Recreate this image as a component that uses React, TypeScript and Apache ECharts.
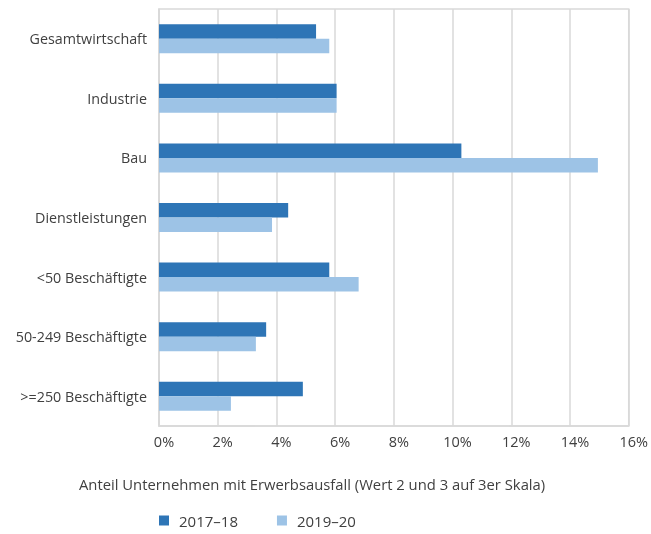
import React, { useEffect, useRef } from "react";
import * as echarts from "echarts";

const categories = [
  "Gesamtwirtschaft",
  "Industrie",
  "Bau",
  "Dienstleistungen",
  "<50 Beschäftigte",
  "50-249 Beschäftigte",
  ">=250 Beschäftigte",
];
const series1718 = [5.35, 6.05, 10.3, 4.4, 5.8, 3.65, 4.9];
const series1920 = [5.8, 6.05, 14.95, 3.85, 6.8, 3.3, 2.45];
const xTicks = [0, 2, 4, 6, 8, 10, 12, 14, 16];

const FONT = "'Open Sans', 'Noto Sans', sans-serif";
const TEXT = "#404040";

export default function App() {
  const ref = useRef<HTMLDivElement>(null);
  useEffect(() => {
    if (!ref.current) return;
    const chart = echarts.init(ref.current, null, { renderer: "svg" });
    chart.setOption({
      animation: false,
      textStyle: { fontFamily: FONT },
      grid: {
        left: 159,
        right: 22,
        top: 9,
        bottom: 108,
        show: true,
        borderColor: "#d9d9d9",
        borderWidth: 1.5,
      },
      legend: {
        left: 159,
        top: 513,
        itemWidth: 10,
        itemHeight: 10,
        itemGap: 39,
        icon: "rect",
        padding: 0,
        textStyle: {
          color: TEXT,
          fontSize: 15,
          fontFamily: FONT,
          padding: [0, 0, 0, 5],
        },
        data: ["2017–18", "2019–20"],
      },
      graphic: [
        {
          type: "text",
          left: 79,
          top: 476,
          style: {
            text: "Anteil Unternehmen mit Erwerbsausfall (Wert 2 und 3 auf 3er Skala)",
            fill: TEXT,
            font: `14.8px ${FONT}`,
          },
        },
      ],
      xAxis: {
        type: "value",
        min: 0,
        max: xTicks[xTicks.length - 1],
        interval: 2,
        axisLine: { show: true, lineStyle: { color: "#d9d9d9", width: 1.5 } },
        axisTick: { show: false },
        splitLine: { show: true, lineStyle: { color: "#d9d9d9", width: 1.5 } },
        axisLabel: {
          color: TEXT,
          fontSize: 14.5,
          fontFamily: FONT,
          margin: 8,
          padding: [0, 0, 0, 10],
          formatter: (v: number) => `${v}%`,
        },
      },
      yAxis: {
        type: "category",
        inverse: true,
        data: categories,
        axisLine: { show: true, lineStyle: { color: "#d9d9d9", width: 1.5 } },
        axisTick: { show: false },
        axisLabel: {
          color: TEXT,
          fontSize: 14.3,
          fontFamily: FONT,
          margin: 12,
          padding: [6, 0, 0, 0],
        },
      },
      series: [
        {
          name: "2017–18",
          type: "bar",
          data: series1718,
          barWidth: 14.5,
          barGap: "0%",
          itemStyle: { color: "#2E75B6" },
        },
        {
          name: "2019–20",
          type: "bar",
          data: series1920,
          barWidth: 14.5,
          barGap: "0%",
          itemStyle: { color: "#9DC3E6" },
        },
      ],
    });
    return () => chart.dispose();
  }, []);
  return (
    <div
      ref={ref}
      style={{ position: "fixed", left: 0, top: 0, width: 651, height: 534 }}
    />
  );
}
